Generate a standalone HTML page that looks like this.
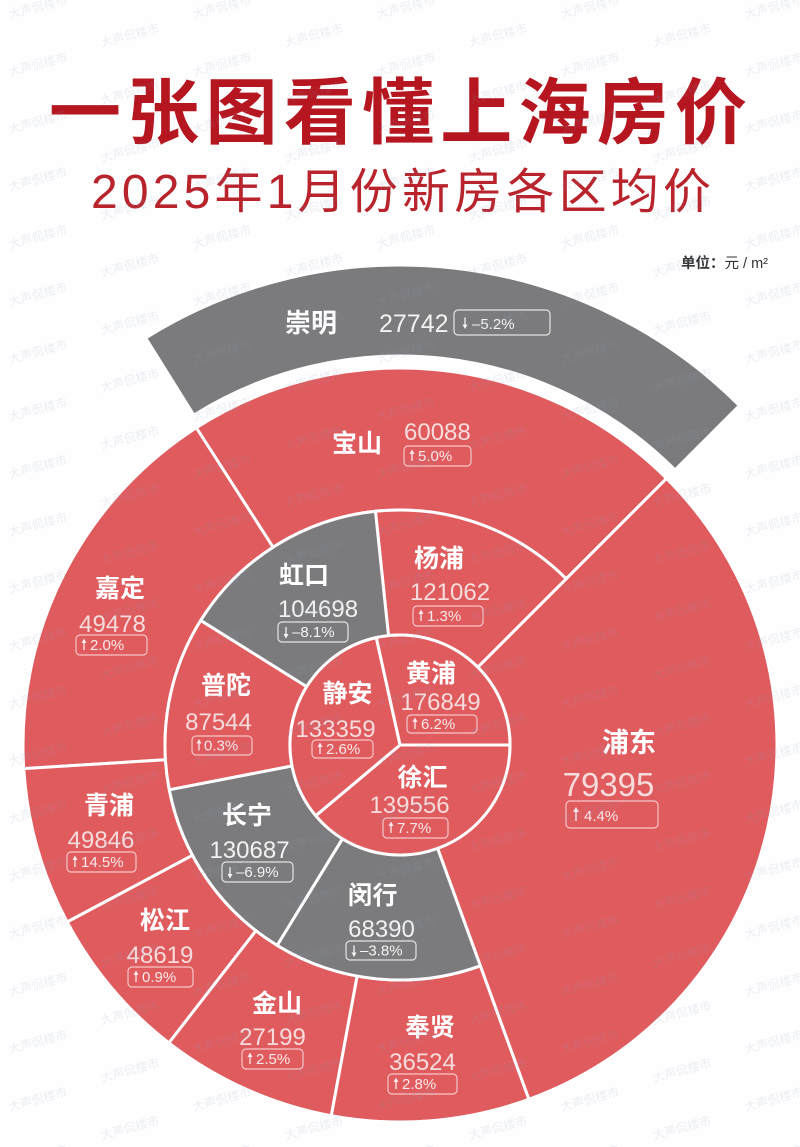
<!DOCTYPE html>
<html>
<head>
<meta charset="utf-8">
<style>
  html,body{margin:0;padding:0;background:#fefefe;}
  svg{display:block;}
  .nm{font-family:"Liberation Sans","Noto Sans CJK SC",sans-serif;font-weight:bold;fill:#ffffff;}
  .nu{font-family:"Liberation Sans","Noto Sans CJK SC",sans-serif;}
  .pc{font-family:"Liberation Sans","Noto Sans CJK SC",sans-serif;font-size:15px;}
</style>
</head>
<body>
<svg width="800" height="1147" viewBox="0 0 800 1147" xmlns="http://www.w3.org/2000/svg">
  <defs>
    <pattern id="wm" patternUnits="userSpaceOnUse" width="184" height="57.5">
      <g font-family="'Liberation Sans','Noto Sans CJK SC',sans-serif" font-size="12" fill="#8a9cc0">
        <text x="8" y="11" transform="rotate(-15 38 7)">大声侃楼市</text>
        <text x="8" y="68.5" transform="rotate(-15 38 64.5)">大声侃楼市</text>
        <text x="100" y="39.5" transform="rotate(-15 130 35.5)">大声侃楼市</text>
      </g>
    </pattern>
  </defs>

  <rect x="0" y="0" width="800" height="1147" fill="#fefefe"/>

  <!-- Titles -->
  <text x="49" y="138" font-family="'Liberation Sans','Noto Sans CJK SC',sans-serif" font-weight="bold" font-size="72" fill="#b5161f" textLength="698" lengthAdjust="spacing">一张图看懂上海房价</text>
  <text x="91" y="208" font-family="'Liberation Sans','Noto Sans CJK SC',sans-serif" font-size="48" fill="#b8232c" textLength="620" lengthAdjust="spacing">2025年1月份新房各区均价</text>
  <text x="768" y="268" text-anchor="end" font-family="'Liberation Sans','Noto Sans CJK SC',sans-serif" font-size="14.5" fill="#333"><tspan font-weight="bold">单位：</tspan>元 / m²</text>

  <!-- Chart sectors -->
  <g stroke="#ffffff" stroke-width="3" stroke-linejoin="round">
    <path fill="#7b7b7d" d="M 145.64 337.94 A 480 480 0 0 1 739.41 405.59 L 675.07 469.93 A 389 389 0 0 0 193.86 415.11 Z"/>
    <path fill="#e05b5d" d="M 196.33 427.75 A 377 377 0 0 1 666.58 478.42 L 566.17 578.83 A 235 235 0 0 0 273.04 547.25 Z"/>
    <path fill="#e05b5d" d="M 23.74 768.67 A 377 377 0 0 1 196.33 427.75 L 273.04 547.25 A 235 235 0 0 0 165.46 759.76 Z"/>
    <path fill="#e05b5d" d="M 67.13 921.99 A 377 377 0 0 1 23.74 768.67 L 165.46 759.76 A 235 235 0 0 0 192.51 855.33 Z"/>
    <path fill="#e05b5d" d="M 168.93 1042.89 A 377 377 0 0 1 67.13 921.99 L 192.51 855.33 A 235 235 0 0 0 255.97 930.69 Z"/>
    <path fill="#e05b5d" d="M 331.30 1115.69 A 377 377 0 0 1 168.93 1042.89 L 255.97 930.69 A 235 235 0 0 0 357.17 976.06 Z"/>
    <path fill="#e05b5d" d="M 528.94 1099.26 A 377 377 0 0 1 331.30 1115.69 L 357.17 976.06 A 235 235 0 0 0 480.37 965.83 Z"/>
    <path fill="#e05b5d" d="M 666.58 478.42 A 377 377 0 0 1 528.94 1099.26 L 437.62 848.37 A 110 110 0 0 0 477.78 667.22 Z"/>
    <path fill="#e05b5d" d="M 375.44 511.29 A 235 235 0 0 1 566.17 578.83 L 477.78 667.22 A 110 110 0 0 0 388.50 635.60 Z"/>
    <path fill="#7b7b7d" d="M 200.71 620.47 A 235 235 0 0 1 375.44 511.29 L 388.50 635.60 A 110 110 0 0 0 306.71 686.71 Z"/>
    <path fill="#e05b5d" d="M 169.32 789.84 A 235 235 0 0 1 200.71 620.47 L 306.71 686.71 A 110 110 0 0 0 292.02 765.99 Z"/>
    <path fill="#7b7b7d" d="M 277.21 945.37 A 235 235 0 0 1 169.32 789.84 L 292.02 765.99 A 110 110 0 0 0 342.52 838.79 Z"/>
    <path fill="#7b7b7d" d="M 480.37 965.83 A 235 235 0 0 1 277.21 945.37 L 342.52 838.79 A 110 110 0 0 0 437.62 848.37 Z"/>
    <path fill="#e05b5d" d="M 400 745 L 376.19 637.61 A 110 110 0 0 1 510 745 Z"/>
    <path fill="#e05b5d" d="M 400 745 L 510 745 A 110 110 0 0 1 315.74 815.71 Z"/>
    <path fill="#e05b5d" d="M 400 745 L 315.74 815.71 A 110 110 0 0 1 376.19 637.61 Z"/>
  </g>

  <!-- 崇明 -->
  <text class="nm" x="285" y="332" font-size="26">崇明</text>
  <text class="nu" x="379" y="332" font-size="25" fill="#f2f2f2">27742</text>
  <rect x="454" y="310" width="96" height="25" rx="4" fill="none" stroke="#e4e4e4" stroke-width="1.2"/>
  <path d="M465 317.5 V325.5" stroke="#f4f4f4" stroke-width="1.3"/><path d="M462.5 324.5 L465 329 L467.5 324.5 Z" fill="#f4f4f4"/>
  <text class="pc" x="472" y="329" font-size="18" fill="#f4f4f4">–5.2%</text>

  <!-- 宝山 -->
  <text class="nm" x="332" y="452" font-size="25">宝山</text>
  <text class="nu" x="404" y="440" font-size="24" fill="#f7dcdc">60088</text>
  <rect x="404" y="446" width="67" height="20" rx="4" fill="none" stroke="#f5c6c6" stroke-width="1.2"/>
  <path d="M412 461 V453" stroke="#fbe9e9" stroke-width="1.3"/><path d="M409.5 454 L412 449.5 L414.5 454 Z" fill="#fbe9e9"/>
  <text class="pc" x="418" y="461" fill="#fbe9e9">5.0%</text>

  <!-- 嘉定 -->
  <text class="nm" x="120" y="597" font-size="25" text-anchor="middle">嘉定</text>
  <text class="nu" x="112.5" y="632" font-size="24" fill="#f7dcdc" text-anchor="middle">49478</text>
  <rect x="76" y="635" width="71" height="20" rx="4" fill="none" stroke="#f5c6c6" stroke-width="1.2"/>
  <path d="M84 650 V642" stroke="#fbe9e9" stroke-width="1.3"/><path d="M81.5 643 L84 638.5 L86.5 643 Z" fill="#fbe9e9"/>
  <text class="pc" x="90" y="650" fill="#fbe9e9">2.0%</text>

  <!-- 青浦 -->
  <text class="nm" x="109" y="814" font-size="25" text-anchor="middle">青浦</text>
  <text class="nu" x="101" y="848" font-size="24" fill="#f7dcdc" text-anchor="middle">49846</text>
  <rect x="67" y="852" width="69" height="20" rx="4" fill="none" stroke="#f5c6c6" stroke-width="1.2"/>
  <path d="M75 867 V859" stroke="#fbe9e9" stroke-width="1.3"/><path d="M72.5 860 L75 855.5 L77.5 860 Z" fill="#fbe9e9"/>
  <text class="pc" x="81" y="867" fill="#fbe9e9">14.5%</text>

  <!-- 松江 -->
  <text class="nm" x="165" y="929" font-size="25" text-anchor="middle">松江</text>
  <text class="nu" x="160" y="963" font-size="24" fill="#f7dcdc" text-anchor="middle">48619</text>
  <rect x="128" y="967" width="65" height="20" rx="4" fill="none" stroke="#f5c6c6" stroke-width="1.2"/>
  <path d="M136 982 V974" stroke="#fbe9e9" stroke-width="1.3"/><path d="M133.5 975 L136 970.5 L138.5 975 Z" fill="#fbe9e9"/>
  <text class="pc" x="142" y="982" fill="#fbe9e9">0.9%</text>

  <!-- 金山 -->
  <text class="nm" x="277" y="1012" font-size="25" text-anchor="middle">金山</text>
  <text class="nu" x="272.5" y="1045" font-size="24" fill="#f7dcdc" text-anchor="middle">27199</text>
  <rect x="242" y="1049" width="61" height="20" rx="4" fill="none" stroke="#f5c6c6" stroke-width="1.2"/>
  <path d="M250 1064 V1056" stroke="#fbe9e9" stroke-width="1.3"/><path d="M247.5 1057 L250 1052.5 L252.5 1057 Z" fill="#fbe9e9"/>
  <text class="pc" x="256" y="1064" fill="#fbe9e9">2.5%</text>

  <!-- 奉贤 -->
  <text class="nm" x="430" y="1036" font-size="25" text-anchor="middle">奉贤</text>
  <text class="nu" x="422.5" y="1070" font-size="24" fill="#f7dcdc" text-anchor="middle">36524</text>
  <rect x="388" y="1074" width="69" height="20" rx="4" fill="none" stroke="#f5c6c6" stroke-width="1.2"/>
  <path d="M396 1089 V1081" stroke="#fbe9e9" stroke-width="1.3"/><path d="M393.5 1082 L396 1077.5 L398.5 1082 Z" fill="#fbe9e9"/>
  <text class="pc" x="402" y="1089" fill="#fbe9e9">2.8%</text>

  <!-- 浦东 -->
  <text class="nm" x="629" y="752" font-size="27" text-anchor="middle">浦东</text>
  <text class="nu" x="608.5" y="796" font-size="33" fill="#f7dcdc" text-anchor="middle">79395</text>
  <rect x="566" y="801" width="92" height="27" rx="4" fill="none" stroke="#f5c6c6" stroke-width="1.2"/>
  <path d="M576 821 V811" stroke="#fbe9e9" stroke-width="1.4"/><path d="M573 812 L576 807 L579 812 Z" fill="#fbe9e9"/>
  <text class="pc" x="584" y="821" font-size="18" fill="#fbe9e9">4.4%</text>

  <!-- 虹口 -->
  <text class="nm" x="304" y="584" font-size="25" text-anchor="middle">虹口</text>
  <text class="nu" x="318" y="617" font-size="24" fill="#f2f2f2" text-anchor="middle">104698</text>
  <rect x="278" y="622" width="70" height="20" rx="4" fill="none" stroke="#e4e4e4" stroke-width="1.2"/>
  <path d="M286 627 V635" stroke="#f4f4f4" stroke-width="1.3"/><path d="M283.5 634 L286 638.5 L288.5 634 Z" fill="#f4f4f4"/>
  <text class="pc" x="292" y="637" fill="#f4f4f4">–8.1%</text>

  <!-- 杨浦 -->
  <text class="nm" x="439" y="567" font-size="25" text-anchor="middle">杨浦</text>
  <text class="nu" x="450" y="600" font-size="24" fill="#f7dcdc" text-anchor="middle">121062</text>
  <rect x="413" y="606" width="70" height="20" rx="4" fill="none" stroke="#f5c6c6" stroke-width="1.2"/>
  <path d="M421 621 V613" stroke="#fbe9e9" stroke-width="1.3"/><path d="M418.5 614 L421 609.5 L423.5 614 Z" fill="#fbe9e9"/>
  <text class="pc" x="427" y="621" fill="#fbe9e9">1.3%</text>

  <!-- 普陀 -->
  <text class="nm" x="226" y="694" font-size="25" text-anchor="middle">普陀</text>
  <text class="nu" x="218.5" y="730" font-size="24" fill="#f7dcdc" text-anchor="middle">87544</text>
  <rect x="192" y="736" width="60" height="19" rx="4" fill="none" stroke="#f5c6c6" stroke-width="1.2"/>
  <path d="M199 750.5 V742.5" stroke="#fbe9e9" stroke-width="1.3"/><path d="M196.5 743.5 L199 739 L201.5 743.5 Z" fill="#fbe9e9"/>
  <text class="pc" x="204" y="750.5" fill="#fbe9e9">0.3%</text>

  <!-- 长宁 -->
  <text class="nm" x="247" y="824" font-size="25" text-anchor="middle">长宁</text>
  <text class="nu" x="249.5" y="858" font-size="24" fill="#f2f2f2" text-anchor="middle">130687</text>
  <rect x="222" y="862" width="71" height="20" rx="4" fill="none" stroke="#e4e4e4" stroke-width="1.2"/>
  <path d="M230 867 V875" stroke="#f4f4f4" stroke-width="1.3"/><path d="M227.5 874 L230 878.5 L232.5 874 Z" fill="#f4f4f4"/>
  <text class="pc" x="236" y="877" fill="#f4f4f4">–6.9%</text>

  <!-- 闵行 -->
  <text class="nm" x="372.5" y="904" font-size="25" text-anchor="middle">闵行</text>
  <text class="nu" x="381.5" y="937" font-size="24" fill="#f2f2f2" text-anchor="middle">68390</text>
  <rect x="346" y="941" width="70" height="19" rx="4" fill="none" stroke="#e4e4e4" stroke-width="1.2"/>
  <path d="M354 945.5 V953.5" stroke="#f4f4f4" stroke-width="1.3"/><path d="M351.5 952.5 L354 957 L356.5 952.5 Z" fill="#f4f4f4"/>
  <text class="pc" x="360" y="955.5" fill="#f4f4f4">–3.8%</text>

  <!-- 静安 -->
  <text class="nm" x="347.5" y="702" font-size="25" text-anchor="middle">静安</text>
  <text class="nu" x="335.5" y="737" font-size="24" fill="#f7dcdc" text-anchor="middle">133359</text>
  <rect x="312" y="740" width="61" height="18" rx="4" fill="none" stroke="#f5c6c6" stroke-width="1.2"/>
  <path d="M320 754 V746" stroke="#fbe9e9" stroke-width="1.3"/><path d="M317.5 747 L320 742.5 L322.5 747 Z" fill="#fbe9e9"/>
  <text class="pc" x="326" y="754" fill="#fbe9e9">2.6%</text>

  <!-- 黄浦 -->
  <text class="nm" x="431" y="682" font-size="25" text-anchor="middle">黄浦</text>
  <text class="nu" x="440.5" y="710" font-size="24" fill="#f7dcdc" text-anchor="middle">176849</text>
  <rect x="407" y="715" width="70" height="18" rx="4" fill="none" stroke="#f5c6c6" stroke-width="1.2"/>
  <path d="M415 729 V721" stroke="#fbe9e9" stroke-width="1.3"/><path d="M412.5 722 L415 717.5 L417.5 722 Z" fill="#fbe9e9"/>
  <text class="pc" x="421" y="729" fill="#fbe9e9">6.2%</text>

  <!-- 徐汇 -->
  <text class="nm" x="422.5" y="786" font-size="25" text-anchor="middle">徐汇</text>
  <text class="nu" x="409.5" y="813" font-size="24" fill="#f7dcdc" text-anchor="middle">139556</text>
  <rect x="383" y="818" width="65" height="20" rx="4" fill="none" stroke="#f5c6c6" stroke-width="1.2"/>
  <path d="M391 833 V825" stroke="#fbe9e9" stroke-width="1.3"/><path d="M388.5 826 L391 821.5 L393.5 826 Z" fill="#fbe9e9"/>
  <text class="pc" x="397" y="833" fill="#fbe9e9">7.7%</text>

  <!-- Watermark overlay -->
  <rect x="0" y="0" width="800" height="1147" fill="url(#wm)" opacity="0.17"/>
</svg>
</body>
</html>
